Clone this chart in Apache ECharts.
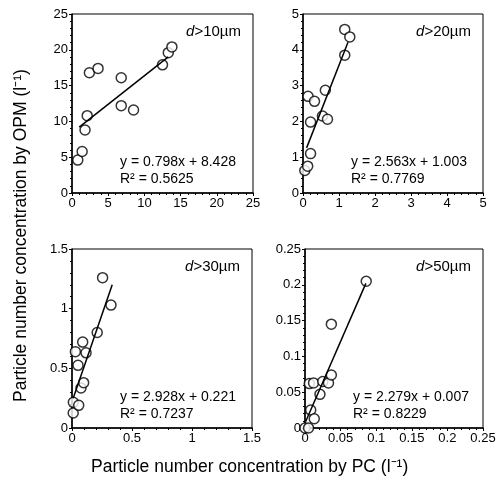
<!DOCTYPE html>
<html>
<head>
<meta charset="utf-8">
<script src="https://cdn.jsdelivr.net/npm/echarts@6/dist/echarts.min.js"></script>
<style>
  html, body { margin: 0; padding: 0; background: #fff; }
  #main { width: 501px; height: 489px; }
</style>
</head>
<body>
<div id="main"></div>
<script>
// points, [PC, OPM]
const pts_10 = [[0.8, 4.6], [1.4, 5.8], [1.8, 8.8], [2.1, 10.8], [2.4, 16.8], [3.6, 17.4],
  [6.8, 16.1], [6.8, 12.2], [8.5, 11.6], [12.5, 17.9], [13.3, 19.6], [13.8, 20.4]];
const pts_20 = [[0.05, 0.63], [0.13, 0.75], [0.21, 1.1], [0.14, 2.7], [0.21, 1.98], [0.32, 2.56],
  [0.54, 2.15], [0.68, 2.06], [0.62, 2.87], [1.16, 4.57], [1.16, 3.85], [1.3, 4.36]];
const pts_30 = [[0.01, 0.126], [0.011, 0.215], [0.056, 0.19], [0.028, 0.64], [0.05, 0.525],
  [0.089, 0.72], [0.117, 0.63], [0.075, 0.335], [0.097, 0.38], [0.21, 0.80], [0.255, 1.26], [0.325, 1.03]];
const pts_50 = [[0.0, 0.0], [0.005, 0.0], [0.006, 0.062], [0.012, 0.063], [0.008, 0.025],
  [0.013, 0.013], [0.021, 0.047], [0.025, 0.065], [0.033, 0.063], [0.037, 0.074], [0.037, 0.145], [0.086, 0.205]];

// fitted line ends as drawn
const fit_10 = [[1.0, 9.2], [13.3, 19.0]];
const fit_20 = [[0.1, 1.26], [1.25, 4.21]];
const fit_30 = [[0.01, 0.25], [0.335, 1.2]];
const fit_50 = [[0.001, 0.009], [0.0855, 0.202]];

const labels = ['d>10µm', 'd>20µm', 'd>30µm', 'd>50µm'];
const eqs = ['y = 0.798x + 8.428', 'y = 2.563x + 1.003', 'y = 2.928x + 0.221', 'y = 2.279x + 0.007'];
const r2s = ['R² = 0.5625', 'R² = 0.7769', 'R² = 0.7237', 'R² = 0.8229'];

const axMax = [25, 5, 1.5, 0.25];
const axStep = [5, 1, 0.5, 0.05];

const grids = [
  { left: 72, top: 14, width: 181, height: 179 },
  { left: 303, top: 14, width: 180, height: 179 },
  { left: 72, top: 249, width: 180, height: 179 },
  { left: 305, top: 249, width: 178, height: 179 }
];

const font = 'Liberation Sans, Arial, sans-serif';

function mkAxis(i) {
  return {
    gridIndex: i, type: 'value', min: 0, max: axMax[i], interval: axStep[i],
    axisLine: { show: true, onZero: false, lineStyle: { color: '#000', width: 1.5 } },
    axisTick: { show: true, length: 3, lineStyle: { color: '#000' } },
    minorTick: { show: true, splitNumber: 5, length: 2, lineStyle: { color: '#000' } },
    splitLine: { show: false },
    axisLabel: { color: '#000', fontSize: 13, fontFamily: font, margin: 4 }
  };
}

const series = [];
[pts_10, pts_20, pts_30, pts_50].forEach(function (d, i) {
  series.push({
    type: 'line', xAxisIndex: i, yAxisIndex: i, data: [fit_10, fit_20, fit_30, fit_50][i],
    symbol: 'none', lineStyle: { color: '#000', width: 1.5 }, silent: true
  });
  series.push({
    type: 'scatter', xAxisIndex: i, yAxisIndex: i, data: d,
    symbol: 'circle', symbolSize: 10,
    itemStyle: { color: '#fff', borderColor: '#000', borderWidth: 1.5 }
  });
});

const graphics = [];
grids.forEach(function (g, i) {
  graphics.push({
    type: 'text', right: 501 - g.left - g.width + 12, top: g.top + 10,
    style: {
      text: '{i|d}{n|' + labels[i].slice(1) + '}',
      rich: {
        i: { fontStyle: 'italic', fontSize: 15, fontFamily: font, fill: '#000' },
        n: { fontSize: 15, fontFamily: font, fill: '#000' }
      }
    }
  });
  graphics.push({
    type: 'text', left: g.left + 48, top: g.top + 140,
    style: { text: eqs[i] + '\n' + r2s[i], font: '14px ' + font, fill: '#000', lineHeight: 17 }
  });
});

graphics.push({
  type: 'text', left: 91, top: 458,
  style: { text: 'Particle number concentration by PC (l⁻¹)', font: '17.5px ' + font, fill: '#000' }
});
graphics.push({
  type: 'text', x: 12, y: 402, rotation: Math.PI / 2,
  style: { text: 'Particle number concentration by OPM (l⁻¹)', font: '17.5px ' + font, fill: '#000' }
});

const chart = echarts.init(document.getElementById('main'));
chart.setOption({
  animation: false,
  grid: grids.map(function (g) {
    return Object.assign({ show: true, borderColor: '#000', borderWidth: 1, backgroundColor: 'transparent' }, g);
  }),
  xAxis: [0, 1, 2, 3].map(mkAxis),
  yAxis: [0, 1, 2, 3].map(mkAxis),
  series: series,
  graphic: graphics
});
</script>
</body>
</html>
